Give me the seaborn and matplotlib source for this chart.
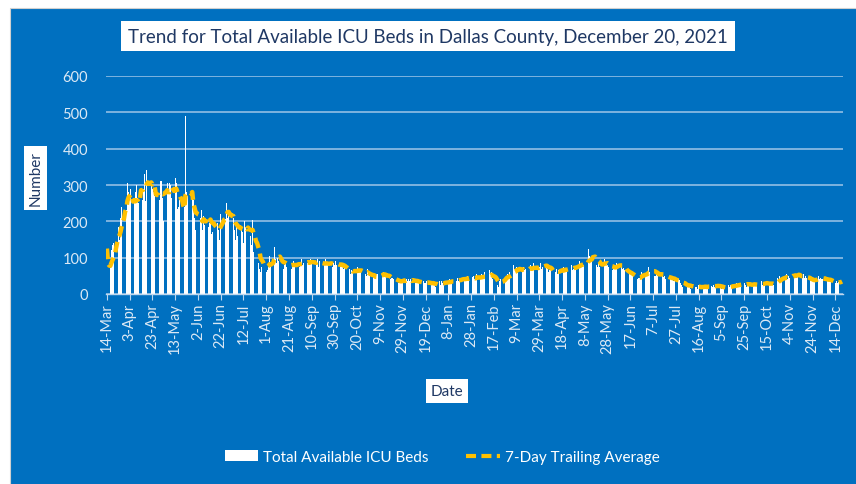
import numpy as np
import pandas as pd
import matplotlib
matplotlib.use("Agg")
import matplotlib.pyplot as plt
from matplotlib.patches import Rectangle, Patch
from matplotlib.lines import Line2D
import seaborn as sns

# ---------------- data ----------------
start_date = "2020-03-14"
title = "Trend for Total Available ICU Beds in Dallas County, December 20, 2021"
bar_label = "Total Available ICU Beds"
avg_label = "7-Day Trailing Average"
y_ticks = [0, 100, 200, 300, 400, 500, 600]

icu_beds = [
    125, 48, 62, 75, 120, 135, 140,
    170, 180, 165, 185, 150, 210, 240,
    260, 245, 300, 230, 305, 280, 270,
    290, 230, 175, 260, 280, 300, 265,
    250, 300, 345, 260, 290, 330, 255,
    340, 330, 320, 275, 300, 290, 280,
    270, 190, 300, 285, 260, 310, 310,
    265, 200, 320, 290, 305, 275, 305,
    300, 265, 285, 250, 320, 305, 235,
    240, 260, 235, 220, 215, 240, 490,
    280, 270, 240, 225, 190, 270, 260,
    210, 175, 230, 200, 180, 210, 230,
    175, 215, 190, 200, 240, 185, 195,
    210, 165, 170, 195, 200, 160, 195,
    175, 150, 220, 235, 240, 215, 207,
    250, 210, 225, 185, 235, 190, 210,
    175, 150, 195, 160, 205, 190, 185,
    170, 140, 200, 185, 175, 225, 150,
    160, 135, 205, 115, 120, 135, 110,
    85, 70, 60, 75, 90, 80, 100,
    60, 65, 75, 105, 80, 95, 115,
    130, 95, 85, 100, 90, 105, 80,
    85, 70, 80, 90, 75, 85, 75,
    80, 70, 85, 90, 75, 80, 80,
    90, 75, 85, 95, 80, 85, 85,
    95, 85, 90, 80, 95, 85, 86,
    90, 80, 85, 95, 75, 90, 87,
    85, 75, 80, 95, 80, 85, 81,
    90, 80, 75, 85, 80, 90, 81,
    85, 70, 80, 75, 85, 70, 81,
    65, 55, 60, 70, 55, 65, 64,
    70, 60, 55, 75, 65, 60, 70,
    65, 50, 60, 55, 50, 70, 56,
    50, 40, 45, 55, 45, 40, 54,
    55, 60, 45, 50, 55, 60, 53,
    50, 40, 45, 50, 40, 45, 45,
    40, 30, 35, 40, 30, 35, 35,
    40, 35, 45, 30, 40, 35, 41,
    35, 40, 30, 45, 35, 30, 37,
    35, 30, 25, 40, 30, 35, 29,
    30, 35, 25, 30, 35, 25, 30,
    30, 25, 20, 30, 25, 35, 24,
    35, 30, 25, 40, 30, 35, 29,
    40, 30, 35, 45, 30, 35, 37,
    45, 35, 40, 45, 40, 42, 40,
    45, 40, 50, 35, 45, 40, 46,
    50, 40, 45, 55, 40, 45, 40,
    55, 45, 50, 60, 40, 45, 48,
    65, 55, 60, 40, 30, 35, 30,
    25, 20, 35, 40, 45, 42, 45,
    45, 50, 55, 45, 60, 50, 59,
    80, 70, 65, 75, 60, 70, 63,
    70, 60, 75, 65, 70, 60, 69,
    75, 80, 65, 70, 85, 60, 69,
    80, 70, 75, 85, 70, 75, 77,
    90, 75, 70, 60, 65, 70, 60,
    55, 65, 60, 70, 55, 65, 64,
    70, 65, 75, 60, 70, 65, 71,
    75, 70, 80, 65, 70, 75, 69,
    85, 80, 90, 75, 85, 80, 79,
    85, 90, 80, 125, 105, 90, 90,
    130, 95, 85, 80, 75, 85, 73,
    90, 80, 85, 95, 80, 85, 80,
    75, 70, 80, 65, 75, 70, 76,
    85, 80, 95, 70, 75, 70, 71,
    65, 55, 60, 50, 60, 55, 61,
    50, 40, 45, 50, 40, 45, 45,
    50, 60, 65, 50, 55, 50, 55,
    75, 60, 85, 55, 60, 50, 49,
    60, 50, 55, 60, 50, 55, 48,
    50, 40, 45, 50, 40, 45, 45,
    40, 35, 40, 35, 30, 40, 39,
    30, 25, 20, 30, 25, 20, 25,
    20, 25, 15, 20, 25, 15, 20,
    20, 15, 25, 20, 15, 20, 18,
    25, 20, 15, 25, 20, 20, 22,
    20, 25, 20, 25, 20, 25, 19,
    20, 15, 20, 15, 15, 20, 14,
    25, 20, 25, 20, 25, 20, 19,
    30, 25, 30, 25, 30, 25, 31,
    30, 25, 20, 30, 25, 28, 24,
    25, 30, 25, 28, 22, 25, 27,
    30, 35, 25, 30, 28, 32, 30,
    25, 30, 25, 30, 28, 25, 26,
    40, 45, 35, 50, 40, 45, 39,
    50, 45, 55, 40, 50, 45, 44,
    55, 60, 50, 55, 45, 50, 56,
    50, 40, 45, 55, 45, 50, 44,
    40, 35, 40, 35, 40, 36, 40,
    45, 40, 50, 40, 45, 40, 41,
    40, 45, 35, 40, 35, 40, 38,
    30, 35, 25, 30, 35, 30, 32,
    38, 40, 36,
]

# ---------------- derived table ----------------
dates = pd.date_range(start_date, periods=len(icu_beds), freq="D")
df = pd.DataFrame({"day": np.arange(len(icu_beds)), "beds": icu_beds})
df["avg7"] = df["beds"].rolling(7, min_periods=1).mean()
tick_pos = list(range(0, len(icu_beds), 20))
tick_labels = [f"{d.day}-{d.strftime('%b')}" for d in dates[tick_pos]]

# ---------------- style ----------------
BLUE = "#0070C0"
NAVY = "#1F3864"
LIGHT = "#DCE9F5"
YELLOW = "#FFC000"
FONT = ["Lato", "DejaVu Sans"]

sns.set_theme(style="white")
plt.rcParams["font.family"] = FONT

fig = plt.figure(figsize=(8.56, 4.85), dpi=100, facecolor="white")
bg = Rectangle((10 / 856, -0.01), 1, (485 - 9) / 485 + 0.01,
               transform=fig.transFigure, facecolor=BLUE,
               edgecolor="#D0D0D0", linewidth=0.8, zorder=-10)
fig.patches.append(bg)

ax = fig.add_axes([106 / 856, (485 - 295) / 485, (843 - 106) / 856, (295 - 77) / 485])
ax.set_zorder(5)
ax.set_facecolor(BLUE)

sns.barplot(data=df, x="day", y="beds", color="white", saturation=1,
            width=0.55, edgecolor="none", linewidth=0, ax=ax, zorder=2)
sns.lineplot(data=df, x="day", y="avg7", color=YELLOW, linewidth=3.2,
             linestyle=(0, (2.4, 1.3)), ax=ax, zorder=3)

ax.set_xlim(-0.8, len(icu_beds) - 0.2)
ax.set_ylim(0, 600)
ax.set_yticks(y_ticks)
ax.set_yticklabels([str(v) for v in y_ticks])
ax.set_xticks(tick_pos)
ax.set_xticklabels(tick_labels, rotation=90)

ax.grid(axis="y", color="#9FC5E8", linewidth=1.1, zorder=1)
ax.set_axisbelow(True)
for s in ["top", "right", "left"]:
    ax.spines[s].set_visible(False)
ax.spines["bottom"].set_color("#BDD7EE")
ax.spines["bottom"].set_linewidth(1.0)
ax.spines["bottom"].set_zorder(4)

ax.tick_params(axis="y", length=0, pad=13, labelsize=10.5, labelcolor=LIGHT)
ax.tick_params(axis="x", length=4, width=0.8, color="#BDD7EE", direction="out",
               pad=2, labelsize=10.5, labelcolor=LIGHT, bottom=True)
ax.set_xlabel("")
ax.set_ylabel("")

box = dict(facecolor="white", edgecolor="none", pad=3.5)
fig.text(428 / 856, 1 - 37 / 485, title, ha="center", va="center",
         fontsize=13.5, color=NAVY, zorder=6,
         bbox=dict(facecolor="white", edgecolor="none", pad=5))
fig.text(35.5 / 856, 1 - 179 / 485, "Number", ha="center", va="center",
         rotation=90, fontsize=11, color=NAVY, bbox=box, zorder=6)
fig.text(447 / 856, 1 - 392 / 485, "Date", ha="center", va="center",
         fontsize=11, color=NAVY, bbox=box, zorder=6)

handles = [Patch(facecolor="white", edgecolor="none"),
           Line2D([0], [0], color=YELLOW, linewidth=3, linestyle=(0, (2.4, 1.3)))]
leg = fig.legend(handles, [bar_label, avg_label], loc="center",
                 bbox_to_anchor=(442 / 856, 1 - 458 / 485), ncol=2, frameon=False,
                 fontsize=11, labelcolor="white", handlelength=2.2,
                 handletextpad=0.3, columnspacing=2.5)
leg.set_zorder(6)

fig.savefig("out.png", dpi=100, facecolor=fig.get_facecolor())
